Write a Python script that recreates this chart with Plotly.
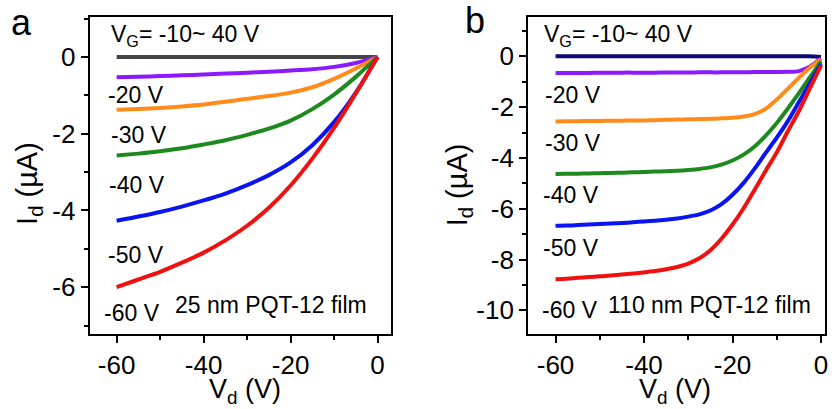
import plotly.graph_objects as go

# ---------------- data ----------------
# Panel a: 25 nm PQT-12 film
vd_a = [-60, -55, -50, -45, -40, -35, -30, -25, -20, -15, -10, -5, 0]
a_m10_40 = [0, 0, 0, 0, 0, 0, 0, 0, 0, 0, 0, 0, 0]
a_m20 = [-0.53, -0.515, -0.50, -0.48, -0.46, -0.435, -0.41, -0.385, -0.355, -0.32, -0.26, -0.16, 0]
a_m30 = [-1.38, -1.36, -1.33, -1.29, -1.24, -1.17, -1.09, -1.02, -0.93, -0.79, -0.57, -0.30, 0]
a_m40 = [-2.57, -2.52, -2.46, -2.38, -2.28, -2.17, -2.03, -1.87, -1.66, -1.36, -0.98, -0.52, 0]
a_m50 = [-4.27, -4.16, -4.04, -3.90, -3.74, -3.56, -3.34, -3.08, -2.75, -2.30, -1.70, -0.93, 0]
a_m60 = [-6.00, -5.80, -5.60, -5.36, -5.10, -4.78, -4.40, -3.93, -3.35, -2.65, -1.85, -0.95, 0]

# Panel b: 110 nm PQT-12 film
vd_b = [-60, -57.5, -55, -52.5, -50, -47.5, -45, -42.5, -40, -37.5, -35, -32.5, -30,
        -27.5, -25, -22.5, -20, -17.5, -15, -12.5, -10, -7.5, -5, -2.5, 0]
b_m10_40 = [0] * 24 + [-0.02]
b_m20 = [-0.65, -0.65, -0.65, -0.65, -0.645, -0.645, -0.64, -0.64, -0.64, -0.64, -0.635, -0.635, -0.635,
         -0.63, -0.63, -0.63, -0.625, -0.625, -0.62, -0.62, -0.615, -0.61, -0.58, -0.40, -0.08]
b_m30 = [-2.56, -2.555, -2.55, -2.545, -2.54, -2.535, -2.53, -2.525, -2.52, -2.51, -2.50, -2.49, -2.48,
         -2.47, -2.46, -2.44, -2.42, -2.37, -2.27, -2.06, -1.70, -1.27, -0.84, -0.44, -0.12]
b_m40 = [-4.63, -4.625, -4.62, -4.61, -4.60, -4.59, -4.58, -4.565, -4.55, -4.535, -4.52, -4.50, -4.47,
         -4.43, -4.37, -4.26, -4.10, -3.87, -3.55, -3.12, -2.62, -2.05, -1.45, -0.82, -0.20]
b_m50 = [-6.67, -6.66, -6.64, -6.62, -6.60, -6.58, -6.56, -6.53, -6.50, -6.47, -6.43, -6.38, -6.31,
         -6.22, -6.07, -5.82, -5.45, -4.98, -4.42, -3.80, -3.20, -2.55, -1.80, -1.05, -0.30]
b_m60 = [-8.77, -8.75, -8.72, -8.69, -8.66, -8.63, -8.59, -8.55, -8.50, -8.45, -8.38, -8.29, -8.16,
         -7.95, -7.63, -7.18, -6.62, -5.98, -5.25, -4.50, -3.78, -2.95, -2.15, -1.25, -0.35]

colors_a = ["#454545", "#8B1AFF", "#FF8C1A", "#1E8A1E", "#0A14F0", "#F01010"]
colors_b = ["#0A0A78", "#8B1AFF", "#FF8C1A", "#1E8A1E", "#0A14F0", "#F01010"]

gate_labels = ["-20 V", "-30 V", "-40 V", "-50 V", "-60 V"]
x_ticks = [-60, -40, -20, 0]
x_ticktext = ["-60", "-40", "-20", "0"]
ya_ticks = [0, -2, -4, -6]
ya_ticktext = ["0", "-2", "-4", "-6"]
yb_ticks = [0, -2, -4, -6, -8, -10]
yb_ticktext = ["0", "-2", "-4", "-6", "-8", "-10"]

W, H = 834, 409
FONT = "Liberation Sans, Arial, sans-serif"

fig = go.Figure()

series_a = [a_m10_40, a_m20, a_m30, a_m40, a_m50, a_m60]
series_b = [b_m10_40, b_m20, b_m30, b_m40, b_m50, b_m60]
for ys, c in zip(series_a, colors_a):
    fig.add_trace(go.Scatter(x=vd_a, y=ys, mode="lines", xaxis="x", yaxis="y",
                             line=dict(color=c, width=4, shape="spline", smoothing=0.8),
                             showlegend=False))
for ys, c in zip(series_b, colors_b):
    fig.add_trace(go.Scatter(x=vd_b, y=ys, mode="lines", xaxis="x2", yaxis="y2",
                             line=dict(color=c, width=4, shape="spline", smoothing=0.8),
                             showlegend=False))

def px(x):
    return x / W

def py(y):
    return 1 - y / H

ydom = [py(334), py(17)]
axis_common = dict(showline=True, linewidth=2, linecolor="black", mirror=True,
                   ticks="outside", ticklen=7, tickwidth=2, tickcolor="black",
                   showgrid=False, zeroline=False,
                   tickfont=dict(family=FONT, size=26, color="black"))
minor_x = dict(dtick=10, ticklen=4, tickwidth=2, ticks="outside", tickcolor="black")
minor_y = dict(dtick=1, ticklen=4, tickwidth=2, ticks="outside", tickcolor="black")

fig.update_layout(
    width=W, height=H, margin=dict(l=0, r=0, t=0, b=0),
    paper_bgcolor="white", plot_bgcolor="white",
    xaxis=dict(domain=[px(90), px(392)], range=[-66.2, 3.0], anchor="y",
               tickvals=x_ticks, ticktext=x_ticktext, minor=minor_x, **axis_common),
    yaxis=dict(domain=ydom, range=[-7.22, 1.04], anchor="x",
               tickvals=ya_ticks, ticktext=ya_ticktext, minor=minor_y, **axis_common),
    xaxis2=dict(domain=[px(530), px(828)], range=[-66.2, 0.9], anchor="y2",
                tickvals=x_ticks, ticktext=x_ticktext, minor=minor_x, **axis_common),
    yaxis2=dict(domain=ydom, range=[-10.93, 1.55], anchor="x2",
                tickvals=yb_ticks, ticktext=yb_ticktext, minor=minor_y, **axis_common),
)

ann = []
def add_text(text, x, y, size, xanchor="left", yanchor="middle", angle=0):
    ann.append(dict(text=text, x=px(x), y=py(y), xref="paper", yref="paper",
                    xanchor=xanchor, yanchor=yanchor, showarrow=False, textangle=angle,
                    font=dict(family=FONT, size=size, color="black")))

# panel letters
add_text("a", 22, 22, 36, xanchor="center")
add_text("b", 477, 20, 36, xanchor="center")

# axis titles
add_text("I<sub>d</sub> (µA)", 29, 183, 29, xanchor="center", angle=-90)
add_text("I<sub>d</sub> (µA)", 461, 185, 29, xanchor="center", angle=-90)
add_text("V<sub>d</sub> (V)", 246, 391, 27, xanchor="center")
add_text("V<sub>d</sub> (V)", 677, 391, 27, xanchor="center")

# panel a in-plot labels
LS = 23
add_text("V<sub>G</sub>= -10~ 40 V", 109, 36, LS)
for lab, (x, y) in zip(gate_labels, [(106, 95), (109, 135), (107, 185), (106, 255), (102, 313)]):
    add_text(lab, x, y, LS)
add_text("25 nm PQT-12 film", 174, 305, LS)

# panel b in-plot labels
add_text("V<sub>G</sub>= -10~ 40 V", 544, 36, LS)
for lab, (x, y) in zip(gate_labels, [(545, 95), (545, 143), (543, 195), (543, 248), (542, 310)]):
    add_text(lab, x, y, LS)
add_text("110 nm PQT-12 film", 608, 305, LS)

fig.update_layout(annotations=ann)
fig.write_html("out.html", config={"displayModeBar": False},
               post_script="document.body.style.margin='0';document.body.style.padding='0';"
                           "document.body.style.overflow='hidden';")
